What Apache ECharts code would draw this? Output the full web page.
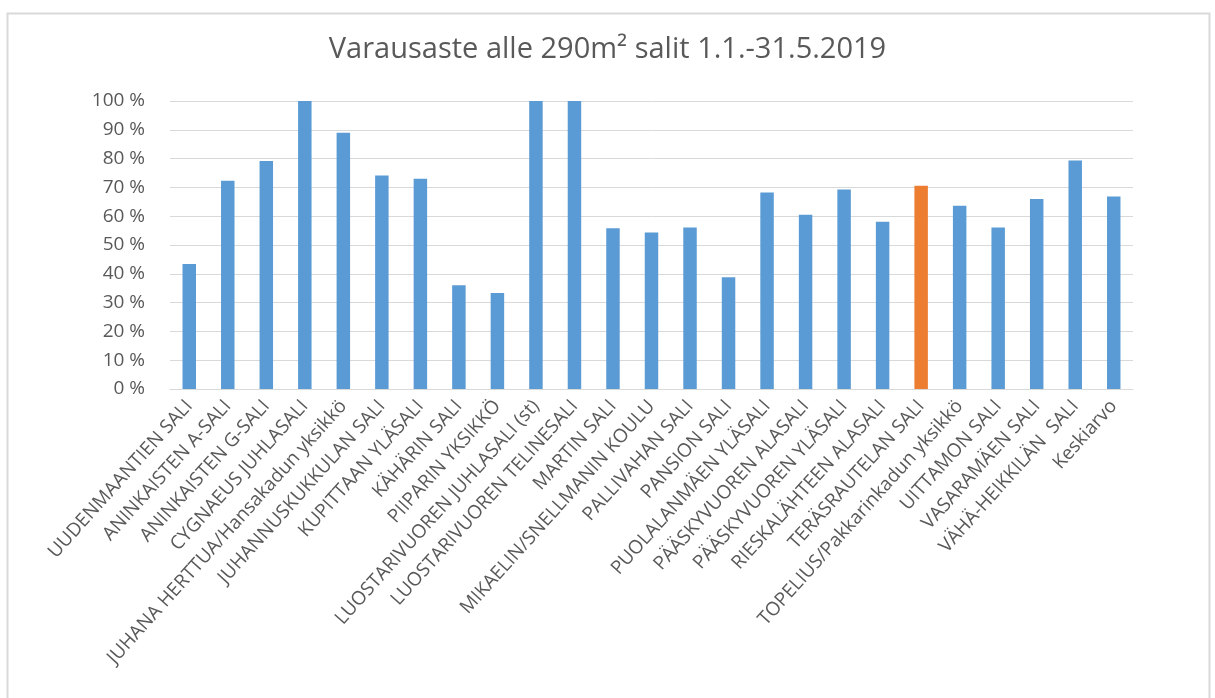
<!DOCTYPE html>
<html><head><meta charset="utf-8">
<script src="https://cdn.jsdelivr.net/npm/echarts@6/dist/echarts.min.js"></script>
<style>html,body{margin:0;padding:0;background:#fff}#c{width:1215px;height:698px}</style>
</head><body><div id="c"></div>
<script>
const titleText = 'Varausaste alle 290m² salit 1.1.-31.5.2019';
const categories = ['UUDENMAANTIEN SALI','ANINKAISTEN A-SALI','ANINKAISTEN G-SALI','CYGNAEUS JUHLASALI','JUHANA HERTTUA/Hansakadun yksikkö','JUHANNUSKUKKULAN SALI','KUPITTAAN YLÄSALI','KÄHÄRIN SALI','PIIPARIN YKSIKKÖ','LUOSTARIVUOREN JUHLASALI (st)','LUOSTARIVUOREN TELINESALI','MARTIN SALI','MIKAELIN/SNELLMANIN KOULU','PALLIVAHAN SALI','PANSION SALI','PUOLALANMÄEN YLÄSALI','PÄÄSKYVUOREN ALASALI','PÄÄSKYVUOREN YLÄSALI','RIESKALÄHTEEN ALASALI','TERÄSRAUTELAN SALI','TOPELIUS/Pakkarinkadun yksikkö','UITTAMON SALI','VASARAMÄEN SALI','VÄHÄ-HEIKKILÄN  SALI','Keskiarvo'];
const values = [43.4,72.3,79.2,100,89.0,74.1,73.0,36.0,33.3,100,100,55.8,54.3,56.1,38.8,68.2,60.5,69.3,58.1,70.6,63.6,56.1,66.0,79.3,66.8];
const highlightCategory = 'TERÄSRAUTELAN SALI';
const yTicks = [0,10,20,30,40,50,60,70,80,90,100];

const chart = echarts.init(document.getElementById('c'), null, {renderer:'canvas'});
const font = '"Open Sans", "Liberation Sans", sans-serif';
chart.setOption({
  backgroundColor:'#fff',
  animation:false,
  graphic:[{type:'rect', shape:{x:7.5,y:13.5,width:1202,height:700}, style:{fill:'none', stroke:'#d9d9d9', lineWidth:2}}],
  title:{text:titleText, left:'center', top:30, textStyle:{fontFamily:font, fontSize:29, fontWeight:'normal', color:'#595959'}},
  grid:{left:170, right:82, top:101, bottom:309},
  xAxis:{type:'category', data:categories,
    axisLine:{lineStyle:{color:'#d9d9d9'}}, axisTick:{show:false},
    axisLabel:{interval:0, rotate:48, margin:14, fontFamily:font, fontSize:19, color:'#595959'}},
  yAxis:{type:'value', min:yTicks[0], max:yTicks[yTicks.length-1], interval:10,
    axisLine:{show:false}, axisTick:{show:false},
    splitLine:{lineStyle:{color:'#d9d9d9'}},
    axisLabel:{formatter:'{value} %', margin:25, fontFamily:font, fontSize:19, color:'#595959'}},
  series:[{type:'bar', barWidth:'35%',
    data: values.map((v,i)=>({value:v, itemStyle:{color: categories[i]===highlightCategory ? '#ed7d31' : '#5b9bd5'}}))}]
});
</script></body></html>
